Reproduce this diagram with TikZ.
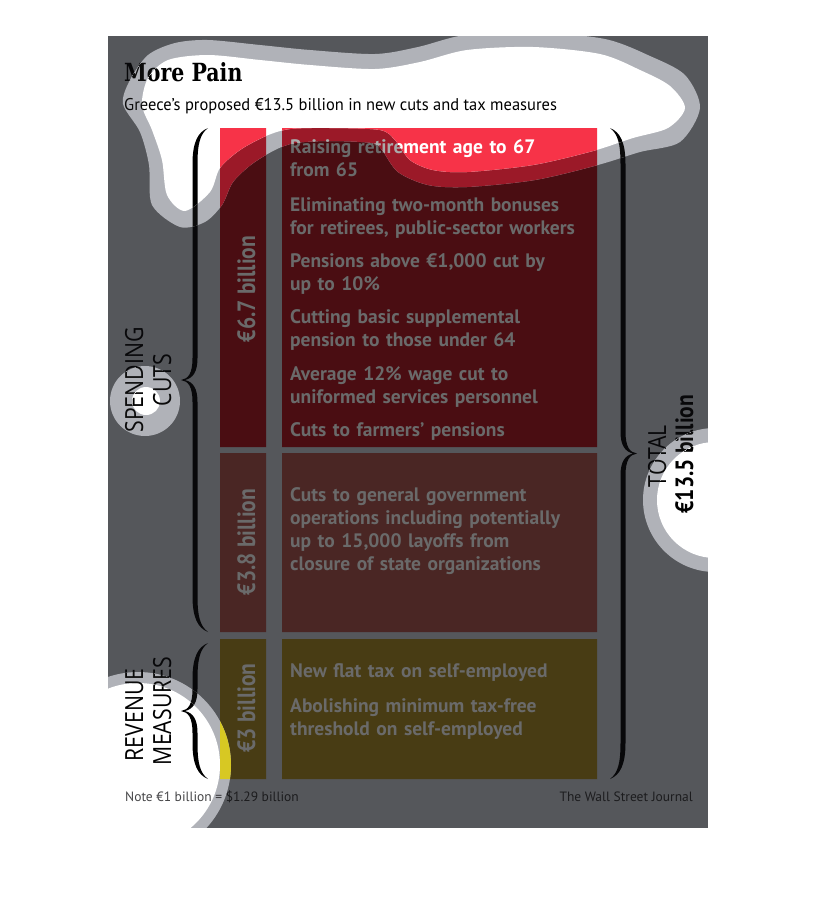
\documentclass[tikz,border=0pt]{standalone}
\usepackage{fontspec}
\newfontfamily\headfont{DejaVu Serif}[FakeStretch=0.82]
\newfontfamily\subfont{PT Sans}[FakeStretch=0.97]
\newfontfamily\boxfont{PT Sans}
\newfontfamily\sumfont{PT Sans}[FakeStretch=0.86]
\newfontfamily\sidefont{Open Sans}[FakeStretch=0.85]

\definecolor{paperD}{RGB}{85,87,91}
\definecolor{boxaD}{RGB}{74,13,18}
\definecolor{boxbD}{RGB}{74,38,36}
\definecolor{boxcD}{RGB}{72,60,20}
\definecolor{txtD}{RGB}{106,106,106}
\definecolor{inkD}{RGB}{8,8,10}
\definecolor{noteD}{RGB}{28,28,30}
\definecolor{paperR}{RGB}{176,178,184}
\definecolor{boxaR}{RGB}{155,25,40}
\definecolor{boxbR}{RGB}{175,90,80}
\definecolor{boxcR}{RGB}{215,200,35}
\definecolor{txtR}{RGB}{170,170,170}
\definecolor{inkR}{RGB}{12,12,12}
\definecolor{noteR}{RGB}{55,55,58}
\definecolor{paperB}{RGB}{255,255,255}
\definecolor{boxaB}{RGB}{247,51,72}
\definecolor{boxbB}{RGB}{230,110,95}
\definecolor{boxcB}{RGB}{250,225,30}
\definecolor{txtB}{RGB}{255,255,255}
\definecolor{inkB}{RGB}{0,0,0}
\definecolor{noteB}{RGB}{70,70,72}

\tikzset{
	item/.style={anchor=base west, inner sep=0, text width=310pt, align=left,
		font=\boxfont\bfseries\fontsize{19.5}{23}\selectfont},
	amount/.style={rotate=90, anchor=base, inner sep=0,
		font=\sumfont\bfseries\fontsize{25}{25}\selectfont},
	side/.style={rotate=90, anchor=base, inner sep=0,
		font=\sidefont\fontsize{25}{25}\selectfont},
	small/.style={inner sep=0, font=\boxfont\fontsize{13.5}{13.5}\selectfont},
}

\newcommand\innerblobs{plot[smooth cycle] coordinates {(185,211) (167,195) (162,160) (152,130) (142,105) (148,78) (168,60) (208,55) (260,60) (310,65) (375,69) (420,62) (467,50) (533,47) (600,54) (640,70) (670,86) (685,108) (668,128) (633,138) (593,151) (533,165) (467,172) (433,170) (410,160) (395,140) (380,130) (330,128) (290,129) (266,136) (240,150) (220,168) (210,192)}
	(146,401) circle (14) (138,765) circle (82) (715,500) circle (58)}
\newcommand\outerblobs{plot[smooth cycle] coordinates {(180,227) (152,205) (149,165) (140,132) (123,104) (130,80) (148,55) (175,43) (208,40) (260,45) (310,50) (375,54) (418,47) (465,35) (533,32) (605,39) (650,56) (685,75) (700,108) (680,142) (640,152) (598,165) (535,180) (467,187) (428,185) (398,172) (382,150) (372,143) (330,141) (295,143) (275,150) (252,164) (233,182) (222,205) (205,222)}
	(145,401) circle (35) (138,765) circle (93) (715,500) circle (72)}

\newcommand\curlybrace[4]{%
	\begin{scope}[shift={(#1,0)}, xscale=#4]
		\pgfmathsetmacro\bmid{(#2+#3)/2}
		\fill (13,#2) .. controls (3,#2+4) and (-2.5,#2+14) .. (-2.5,#2+36)
			-- (-2.5,\bmid-22) .. controls (-2.5,\bmid-6) and (-7,\bmid-1) .. (-14,\bmid)
			.. controls (-7,\bmid+1) and (-2.5,\bmid+6) .. (-2.5,\bmid+22)
			-- (-2.5,#3-36) .. controls (-2.5,#3-14) and (3,#3-4) .. (13,#3)
			.. controls (5,#3-6) and (2.5,#3-16) .. (2.5,#3-36)
			-- (2.5,\bmid+22) .. controls (2.5,\bmid+8) and (-2,\bmid+2) .. (-10,\bmid)
			.. controls (-2,\bmid-2) and (2.5,\bmid-8) .. (2.5,\bmid-22)
			-- (2.5,#2+36) .. controls (2.5,#2+16) and (5,#2+6) .. (13,#2) -- cycle;
	\end{scope}}

\newcommand\chart[1]{%
	\fill[paper#1] (108,36) rectangle (708,828);
	\node[anchor=base west, inner sep=0, text=ink#1, font=\headfont\bfseries\fontsize{25}{25}\selectfont] (title) at (124,81) {More Pain};
	\node[anchor=base west, inner sep=0, text=ink#1, font=\subfont\fontsize{17}{17}\selectfont] (subtitle) at (124,110) {Greece’s proposed €13.5 billion in new cuts and tax measures};
	\fill[boxa#1] (220,128) rectangle (266,447) (282,128) rectangle (597,447);
	\fill[boxb#1] (220,453) rectangle (266,632) (282,453) rectangle (597,632);
	\fill[boxc#1] (220,639) rectangle (266,779) (282,639) rectangle (597,779);
	\node[amount, text=txt#1] (sum1) at (255,289) {€6.7 billion};
	\node[amount, text=txt#1] (sum2) at (255,542) {€3.8 billion};
	\node[amount, text=txt#1] (sum3) at (255,708) {€3 billion};
	\foreach \y/\lines in {153/{Raising retirement age to 67\\from 65},
		211/{Eliminating two-month bonuses\\for retirees, public-sector workers},
		267/{Pensions above €1,000 cut by\\up to 10\%},
		323/{Cutting basic supplemental\\pension to those under 64},
		380/{Average 12\% wage cut to\\uniformed services personnel},
		436/{Cuts to farmers’ pensions},
		501/{Cuts to general government\\operations including potentially\\up to 15,000 layoffs from\\closure of state organizations},
		677/{New flat tax on self-employed},
		712/{Abolishing minimum tax-free\\threshold on self-employed}}
		\node[item, text=txt#1] (item\y) at (290,\y) {\lines};
	\begin{scope}[color=ink#1]
		\curlybrace{195}{128}{632}{1}
		\curlybrace{195}{643}{779}{1}
		\curlybrace{623}{128}{779}{-1}
	\end{scope}
	\node[side, text=ink#1] (spending) at (143,380) {SPENDING};
	\node[side, text=ink#1] (cuts) at (171,380) {CUTS};
	\node[side, text=ink#1] (revenue) at (143,715) {REVENUE};
	\node[side, text=ink#1] (measures) at (171,711) {MEASURES};
	\node[side, text=ink#1] (total) at (666,456) {TOTAL};
	\node[amount, text=ink#1] (totalsum) at (693,454) {€13.5 billion};
	\node[small, anchor=base west, text=note#1] (note) at (125,801) {Note €1 billion = \$1.29 billion};
	\node[small, anchor=base east, text=note#1] (source) at (693,801) {The Wall Street Journal};
}

\begin{document}
\begin{tikzpicture}[x=1pt, y=-1pt]
	\useasboundingbox (0,0) rectangle (816,922);
	\fill[white] (0,0) rectangle (816,922);
	\begin{scope}
		\clip (108,36) rectangle (708,828);
		\chart{D}
	\end{scope}
	\begin{scope}
		\clip (108,36) rectangle (708,828);
		\clip \outerblobs;
		\chart{R}
	\end{scope}
	\begin{scope}
		\clip (108,36) rectangle (708,828);
		\clip \innerblobs;
		\chart{B}
	\end{scope}
\end{tikzpicture}
\end{document}
